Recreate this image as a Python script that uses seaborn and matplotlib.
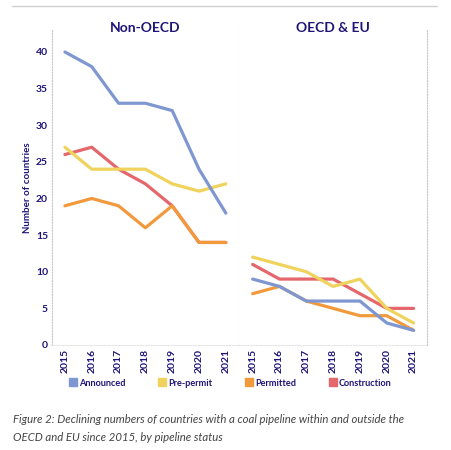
import matplotlib
matplotlib.use("Agg")
import matplotlib.pyplot as plt
import seaborn as sns
import pandas as pd
from matplotlib.lines import Line2D

years = ["2015", "2016", "2017", "2018", "2019", "2020", "2021"]
statuses = ["Announced", "Pre-permit", "Permitted", "Construction"]
colors = ["#7F97D0", "#EFD35C", "#F29A3B", "#E5676B"]

non_oecd = {
    "Announced":    [40, 38, 33, 33, 32, 24, 18],
    "Pre-permit":   [27, 24, 24, 24, 22, 21, 22],
    "Permitted":    [19, 20, 19, 16, 19, 14, 14],
    "Construction": [26, 27, 24, 22, 19, 14, 14],
}
oecd_eu = {
    "Announced":    [9, 8, 6, 6, 6, 3, 2],
    "Pre-permit":   [12, 11, 10, 8, 9, 5, 3],
    "Permitted":    [7, 8, 6, 5, 4, 4, 2],
    "Construction": [11, 9, 9, 9, 7, 5, 5],
}
panels = [("Non-OECD", non_oecd), ("OECD & EU", oecd_eu)]

NAVY = "#1E1478"
FONT = ["Lato", "DejaVu Sans"]

sns.set_theme(style="white")
plt.rcParams["font.family"] = FONT

fig = plt.figure(figsize=(4.51, 4.5), dpi=100)
left, right, bottom, top = 51.5 / 451, 427 / 451, 1 - 345 / 450, 1 - 30 / 450
w = (right - left) / 2
axes = [fig.add_axes([left, bottom, w, top - bottom]),
        fig.add_axes([left + w, bottom, w, top - bottom])]

palette = dict(zip(statuses, colors))
draw_order = list(reversed(statuses))

for i, (ax, (title, data)) in enumerate(zip(axes, panels)):
    rows = []
    for s in statuses:
        for j, (y, v) in enumerate(zip(years, data[s])):
            rows.append({"pos": j, "year": y, "status": s, "value": v})
    df = pd.DataFrame(rows)
    sns.lineplot(data=df, x="pos", y="value", hue="status", hue_order=draw_order,
                 palette=palette, linewidth=2.3, legend=False, ax=ax, sort=False)
    ax.set_xlim(-0.5, 6.5)
    ax.set_ylim(0, 43)
    ax.set_xticks(range(len(years)))
    ax.set_xticklabels(years, rotation=90, fontsize=7.5, fontweight="bold", color=NAVY)
    ax.set_xlabel("")
    ax.set_title(title, fontsize=10, fontweight="bold", color=NAVY, pad=-1.5)
    ax.tick_params(axis="both", length=0, pad=3)
    ax.spines["top"].set_visible(False)
    for sp in ["left", "right", "bottom"]:
        ax.spines[sp].set_visible(True)
        ax.spines[sp].set_color("#C8C8C8")
        ax.spines[sp].set_linestyle((0, (1, 1.5)))
        ax.spines[sp].set_linewidth(0.8)
    ax.spines["bottom"].set_color("#E4E4E4")
    ax.set_yticks(range(0, 41, 5))
    if i == 0:
        ax.set_yticklabels([str(v) for v in range(0, 41, 5)], fontsize=7.5,
                           fontweight="bold", color=NAVY)
        ax.set_ylabel("Number of countries", fontsize=7, fontweight="bold",
                      color=NAVY, labelpad=3)
        ax.tick_params(axis="y", pad=2.5)
    else:
        ax.set_yticklabels([])
        ax.set_ylabel("")
        ax.spines["left"].set_visible(False)

# top rule
fig.add_artist(Line2D([12 / 451, 437 / 451], [1 - 6 / 450, 1 - 6 / 450],
                      color="#D0D0D0", linewidth=1.0))

handles = [Line2D([], [], marker="s", linestyle="none", markersize=5.5,
                  markerfacecolor=c, markeredgecolor=c) for c in colors]
leg = fig.legend(handles, statuses, loc="center", bbox_to_anchor=(0.511, 1 - 383 / 450),
                 ncol=4, frameon=False, fontsize=6.6, handletextpad=0.25,
                 columnspacing=3.6, handlelength=0.8)
for t in leg.get_texts():
    t.set_color(NAVY)
    t.set_fontweight("bold")

fig.text(13 / 451, 1 - 414 / 450,
         "Figure 2: Declining numbers of countries with a coal pipeline within and outside the\n"
         "OECD and EU since 2015, by pipeline status",
         fontsize=8.2, style="italic", color="#444444", va="top", ha="left",
         linespacing=1.8, family=FONT)

fig.savefig("out.png", dpi=100)
